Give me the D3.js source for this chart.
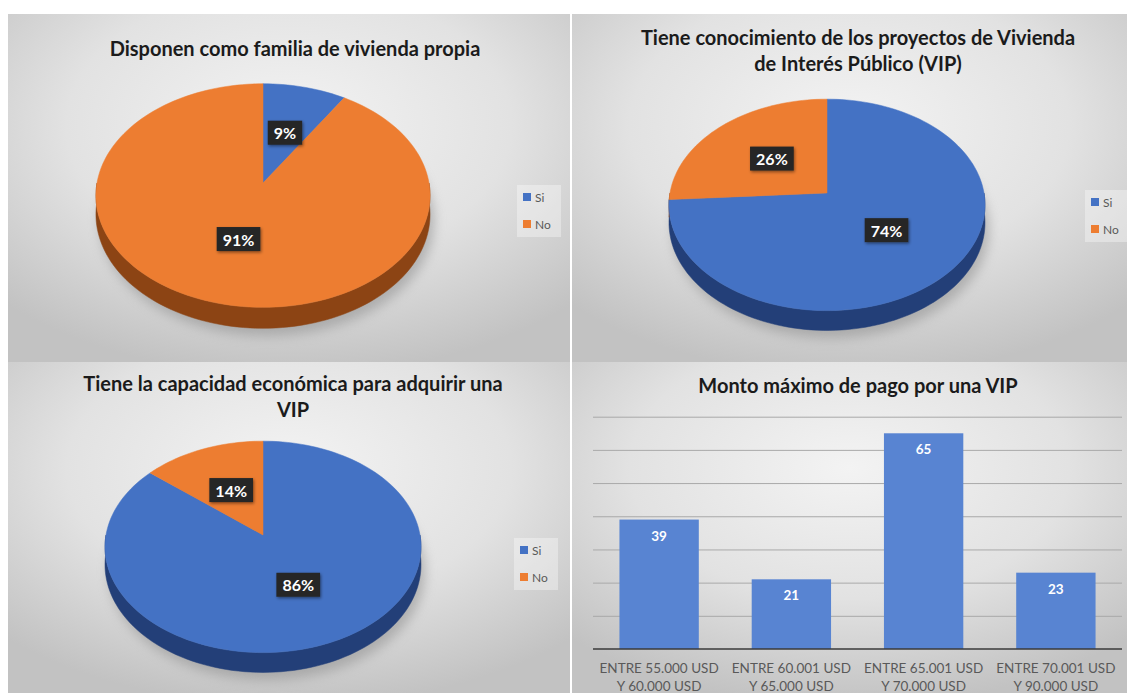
<!DOCTYPE html>
<html>
<head>
<meta charset="utf-8">
<script src="https://cdn.jsdelivr.net/npm/d3@7"></script>
<style>
  body { margin: 0; background: #ffffff; }
  svg { display: block; }
</style>
</head>
<body>
<div id="chart-area"></div>
<script>
/* DATA */
const pieCategories = ['Si', 'No'];
const pieTitles = [
  ['Disponen como familia de vivienda propia'],
  ['Tiene conocimiento de los proyectos de Vivienda', 'de Interés Público (VIP)'],
  ['Tiene la capacidad económica para adquirir una', 'VIP']
];
const viviendaPropia = [9, 91];
const conocimientoVIP = [74, 26];
const capacidadEconomica = [86, 14];

const barTitle = 'Monto máximo de pago por una VIP';
const barCategories = [
  ['ENTRE 55.000 USD', 'Y 60.000 USD'],
  ['ENTRE 60.001 USD', 'Y 65.000 USD'],
  ['ENTRE 65.001 USD', 'Y 70.000 USD'],
  ['ENTRE 70.001 USD', 'Y 90.000 USD']
];
const barValues = [39, 21, 65, 23];
const yTicks = [0, 10, 20, 30, 40, 50, 60, 70];

/* CONSTANTS */
const width = 1131;
const height = 700;
const colors = { Si: '#4472c4', No: '#ed7d31' };
const sideColors = { Si: '#233f78', No: '#8c4414' };
const font = 'Lato, "Open Sans", sans-serif';

const svg = d3
  .select('#chart-area')
  .append('svg')
  .attr('width', width)
  .attr('height', height);

const defs = svg.append('defs');
const bg = defs
  .append('radialGradient')
  .attr('id', 'panelBg')
  .attr('cx', '50%')
  .attr('cy', '32%')
  .attr('r', '72%');
bg.append('stop').attr('offset', '0%').attr('stop-color', '#f3f3f3');
bg.append('stop').attr('offset', '55%').attr('stop-color', '#e2e2e2');
bg.append('stop').attr('offset', '100%').attr('stop-color', '#c2c2c2');

defs
  .append('filter')
  .attr('id', 'blur')
  .attr('x', '-20%')
  .attr('y', '-20%')
  .attr('width', '140%')
  .attr('height', '140%')
  .append('feGaussianBlur')
  .attr('stdDeviation', 6);

const lblShadow = defs
  .append('filter')
  .attr('id', 'lblShadow')
  .attr('x', '-30%')
  .attr('y', '-30%')
  .attr('width', '160%')
  .attr('height', '160%');
lblShadow
  .append('feDropShadow')
  .attr('dx', 1)
  .attr('dy', 1.5)
  .attr('stdDeviation', 1.5)
  .attr('flood-color', '#000')
  .attr('flood-opacity', 0.45);

// panel backgrounds
const panels = [
  { x: 8, y: 14, w: 562, h: 348 },
  { x: 572, y: 14, w: 555, h: 348 },
  { x: 8, y: 362, w: 562, h: 331 },
  { x: 572, y: 362, w: 555, h: 331 }
];
svg
  .selectAll('rect.panel')
  .data(panels)
  .join('rect')
  .attr('class', 'panel')
  .attr('x', (d) => d.x)
  .attr('y', (d) => d.y)
  .attr('width', (d) => d.w)
  .attr('height', (d) => d.h)
  .attr('fill', 'url(#panelBg)');

function drawTitle(lines, x, ys) {
  svg
    .append('g')
    .selectAll('text')
    .data(lines)
    .join('text')
    .attr('x', x)
    .attr('y', (d, i) => ys[i])
    .attr('text-anchor', 'middle')
    .attr('dominant-baseline', 'central')
    .attr('font-family', font)
    .attr('font-weight', 'bold')
    .attr('font-size', 20)
    .attr('fill', '#1b1b1b')
    .text((d) => d);
}

/* 3D PIES */
const pieLayouts = [
  { values: viviendaPropia, title: pieTitles[0], cx: 263, cy: 183, R: 166, titleX: 295, titleY: [48], legX: 523, legY: 197 },
  { values: conocimientoVIP, title: pieTitles[1], cx: 827, cy: 193, R: 157, titleX: 858, titleY: [37, 63], legX: 1091, legY: 202 },
  { values: capacidadEconomica, title: pieTitles[2], cx: 263, cy: 535, R: 157, titleX: 293, titleY: [383, 409], legX: 520, legY: 550 }
];

const pie = d3.pie().sort(null).value((d) => d.value);
const line = d3.line();

function drawPie(cfg) {
  const { cx, cy, R } = cfg;
  const D = 8.9 * R; // perspective distance
  const tilt = 0.665;
  const depth = 0.112 * R;
  const proj = (a, r, drop) => {
    const x = r * Math.sin(a);
    const z = r * Math.cos(a);
    const f = D / (D + z);
    return [cx + f * x, cy - f * z * tilt + f * drop];
  };
  const rim = (a0, a1, drop) => {
    const n = Math.max(2, Math.ceil(((a1 - a0) / (2 * Math.PI)) * 180));
    return d3.range(n + 1).map((i) => proj(a0 + ((a1 - a0) * i) / n, R, drop));
  };

  const data = pie(pieCategories.map((k, i) => ({ key: k, value: cfg.values[i] })));
  const g = svg.append('g');

  // soft shadow under the pie
  g.append('path')
    .attr('d', line(rim(0, 2 * Math.PI, depth + 5)) + 'Z')
    .attr('fill', '#8c8c8c')
    .attr('opacity', 0.55)
    .attr('transform', 'translate(4,2)')
    .attr('filter', 'url(#blur)');

  // outer walls (only the near half is visible)
  data.forEach((d) => {
    const a0 = Math.max(d.startAngle, Math.PI / 2);
    const a1 = Math.min(d.endAngle, (3 * Math.PI) / 2);
    if (a1 <= a0) return;
    const pts = rim(a0, a1, 0).concat(rim(a0, a1, depth).reverse());
    g.append('path')
      .attr('d', line(pts) + 'Z')
      .attr('fill', sideColors[d.data.key])
      .attr('stroke', sideColors[d.data.key])
      .attr('stroke-width', 0.5);
  });

  // top faces
  data.forEach((d) => {
    const pts = [proj(0, 0, 0)].concat(rim(d.startAngle, d.endAngle, 0));
    g.append('path')
      .attr('d', line(pts) + 'Z')
      .attr('fill', colors[d.data.key])
      .attr('stroke', colors[d.data.key])
      .attr('stroke-width', 0.5);
  });

  // data labels
  data.forEach((d) => {
    const mid = (d.startAngle + d.endAngle) / 2;
    const p = proj(mid, R * 0.5, 0);
    const lg = g.append('g').attr('transform', `translate(${p[0]},${p[1]})`);
    const rect = lg.append('rect').attr('fill', '#262626').attr('filter', 'url(#lblShadow)');
    const t = lg
      .append('text')
      .attr('text-anchor', 'middle')
      .attr('dominant-baseline', 'central')
      .attr('font-family', font)
      .attr('font-weight', 'bold')
      .attr('font-size', 16)
      .attr('fill', '#ffffff')
      .text(d.data.value + '%');
    const tw = t.node().getComputedTextLength();
    rect
      .attr('x', -tw / 2 - 6)
      .attr('y', -12)
      .attr('width', tw + 12)
      .attr('height', 24);
  });

  // legend
  const leg = svg.append('g').attr('transform', `translate(${cfg.legX},${cfg.legY})`);
  leg.append('rect')
    .attr('x', -6)
    .attr('y', -12)
    .attr('width', 44)
    .attr('height', 52)
    .attr('fill', '#ffffff')
    .attr('opacity', 0.35);
  const items = leg
    .selectAll('g')
    .data(pieCategories)
    .join('g')
    .attr('transform', (d, i) => `translate(0,${i * 27})`);
  items
    .append('rect')
    .attr('x', 0)
    .attr('y', -4)
    .attr('width', 8)
    .attr('height', 8)
    .attr('fill', (d) => colors[d]);
  items
    .append('text')
    .attr('x', 12)
    .attr('y', 0)
    .attr('dominant-baseline', 'central')
    .attr('font-family', font)
    .attr('font-size', 12)
    .attr('fill', '#595959')
    .text((d) => d);

  drawTitle(cfg.title, cfg.titleX, cfg.titleY);
}

pieLayouts.forEach(drawPie);

/* BAR CHART */
const plot = { left: 593, right: 1122, top: 416.7, bottom: 649 };
const x = d3
  .scaleBand()
  .domain(barCategories.map((d) => d.join(' ')))
  .range([plot.left, plot.right])
  .paddingInner(0.4)
  .paddingOuter(0.2);
const y = d3.scaleLinear().domain([0, 70]).range([plot.bottom, plot.top]);

const grid = svg
  .append('g')
  .attr('transform', `translate(${plot.left},0)`)
  .call(
    d3.axisLeft(y)
      .tickValues(yTicks.slice(1))
      .tickSize(-(plot.right - plot.left))
      .tickFormat('')
  );
grid.select('.domain').remove();
grid.selectAll('line').attr('stroke', '#a9a9a9').attr('stroke-width', 1);

const barData = barCategories.map((c, i) => ({ key: c.join(' '), lines: c, value: barValues[i] }));

svg
  .append('g')
  .selectAll('rect')
  .data(barData)
  .join('rect')
  .attr('x', (d) => x(d.key))
  .attr('y', (d) => y(d.value))
  .attr('width', x.bandwidth())
  .attr('height', (d) => y(0) - y(d.value))
  .attr('fill', '#5884d2');

svg
  .append('line')
  .attr('x1', plot.left)
  .attr('x2', plot.right)
  .attr('y1', y(0))
  .attr('y2', y(0))
  .attr('stroke', '#3a3a3a')
  .attr('stroke-width', 1.5);

svg
  .append('g')
  .selectAll('text')
  .data(barData)
  .join('text')
  .attr('x', (d) => x(d.key) + x.bandwidth() / 2)
  .attr('y', (d) => y(d.value) + 16)
  .attr('text-anchor', 'middle')
  .attr('dominant-baseline', 'central')
  .attr('font-family', font)
  .attr('font-weight', 'bold')
  .attr('font-size', 13.5)
  .attr('fill', '#ffffff')
  .text((d) => d.value);

const xl = svg
  .append('g')
  .selectAll('text')
  .data(barData)
  .join('text')
  .attr('text-anchor', 'middle')
  .attr('font-family', font)
  .attr('font-size', 13.5)
  .attr('fill', '#595959');
xl.selectAll('tspan')
  .data((d) => d.lines.map((l) => ({ l, cx: x(d.key) + x.bandwidth() / 2 })))
  .join('tspan')
  .attr('x', (d) => d.cx)
  .attr('y', (d, i) => 673 + i * 18)
  .text((d) => d.l);

drawTitle([barTitle], 858, [385]);
</script>
</body>
</html>
